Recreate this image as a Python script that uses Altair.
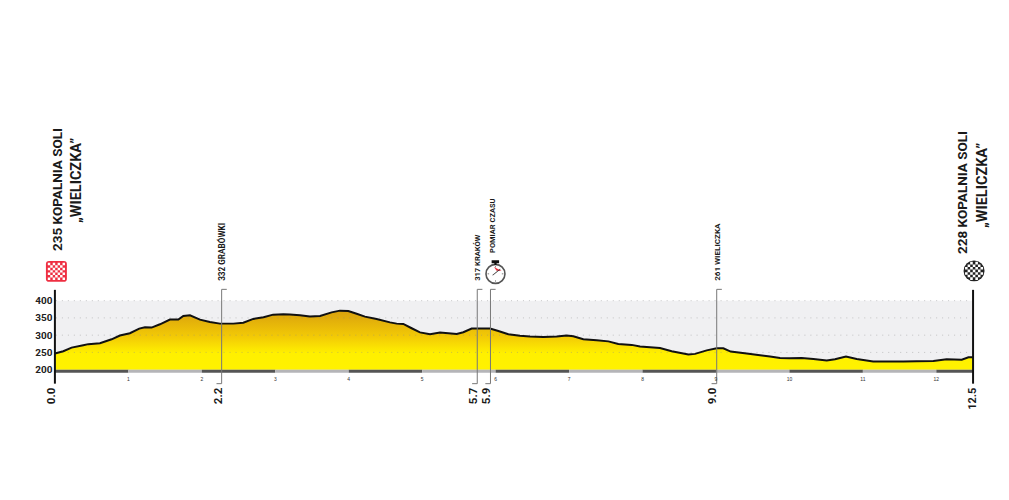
import altair as alt
import pandas as pd

FONT = "Roboto"

# elevation profile (km, m)
km = [0.0,0.114,0.227,0.386,0.454,0.613,0.772,0.885,1.021,1.148,1.226,1.316,1.43,1.566,1.68,1.748,1.839,1.975,2.11,2.247,2.43,2.565,2.70,2.84,2.97,3.11,
      3.2,3.336,3.472,3.61,3.767,3.88,3.994,4.108,4.221,4.38,4.562,4.653,4.743,4.857,4.97,5.107,5.243,5.47,5.56,5.674,5.924,6.037,6.173,6.332,6.468,
      6.65,6.831,6.967,7.058,7.194,7.376,7.535,7.67,7.853,7.966,8.238,8.397,8.624,8.715,8.874,9.01,9.1,9.2,9.418,9.6,9.736,
      9.872,10.0,10.167,10.326,10.508,10.62,10.77,10.916,11.14,11.325,11.552,11.733,11.96,12.14,12.346,12.437,12.5]
elev = [247,253.5,264,271,274,276.6,288,299,305.5,319,323,322,331.5,345,345,355.6,357.5,345,338,333.4,333.4,336,347,352,359.4,360.4,
        360,357.5,353.7,355.6,366,371,370,362,353.7,347,337,333.4,332.5,320,308,302.6,307.4,303.6,308.4,319,319,312,302.6,298,296,
        295,296,298.7,297,288,285,282,274.7,271.8,267,263,253.5,243.8,245.8,256,262,262,252.5,246.7,242,238,
        234,233,234,231,226.5,230,238,231,223.6,223.6,223.6,224.6,225.5,230,229,236,236]

y_ticks = [200, 250, 300, 350, 400]
grid_levels = [250, 300, 350, 400]
seg_start = [0,1,2,3,4,5,6,7,8,9,10,11,12]
seg_end = [1,2,3,4,5,6,7,8,9,10,11,12,12.5]
seg_col = ["#555555","#b5b5b8"]*6 + ["#555555"]
km_marks = [1,2,3,4,5,6,7,8,9,10,11,12]

rule_km = [2.27, 5.75, 5.93, 9.01]
end_km = [0.0, 12.5]

PX_PER_M = 0.346
def at(py):
    return 200 + (369 - py) / PX_PER_M
def kx(px):
    return (px - 55) / 73.44

big_labels = [("235 KOPALNIA SOLI", 58, 250, 13.5), ("\u201eWIELICZKA\u201d", 77, 222, 14.5),
              ("228 KOPALNIA SOLI", 963, 253, 13.5), ("\u201eWIELICZKA\u201d", 983, 227, 14.5),
              ("332 GRABÓWKI", 223.5, 280, 8.2), ("317 KRAKÓW", 478, 280, 7.6),
              ("POMIAR CZASU", 493, 252, 7.5), ("261 WIELICZKA", 718, 280, 8.1)]
low_labels = [("0.0", 52, 11.5), ("2.2", 219, 11.5), ("5.7", 474, 11.5), ("5.9", 487, 11.5),
              ("9.0", 713, 11.5), ("12.5", 973, 11)]

xs = alt.Scale(domain=[0, 12.5], nice=False, zero=False)
ys = alt.Scale(domain=[at(400), at(8)], nice=False, zero=False)
yaxis = alt.Axis(values=y_ticks, title=None, domain=False, ticks=False, grid=False, labelPadding=3,
                 labelFont=FONT, labelFontSize=10, labelFontWeight="bold", labelColor="#222222",
                 labelOverlap=False)
def X(f): return alt.X(f, type="quantitative", scale=xs, axis=None)
def Y(f): return alt.Y(f, type="quantitative", scale=ys, axis=yaxis)

prof = pd.DataFrame({"km": km, "elev": elev, "base": 200})

bg = alt.Chart(pd.DataFrame({"a":[0],"b":[12.5],"c":[200],"d":[400]})).mark_rect(color="#f0f0f2").encode(
    x=X("a"), x2="b", y=Y("c"), y2="d")

area = alt.Chart(prof).mark_area(
    color=alt.Gradient(gradient="linear", x1=1, x2=1, y1=0, y2=1, stops=[
        alt.GradientStop(offset=0, color="#d9a00d"),
        alt.GradientStop(offset=0.45, color="#f3cb06"),
        alt.GradientStop(offset=0.72, color="#fff000"),
        alt.GradientStop(offset=1, color="#fff200")])
).encode(x=X("km"), y=Y("elev"), y2="base")

grid = alt.Chart(pd.DataFrame({"g": grid_levels})).mark_rule(
    color="#8a8a8a", opacity=0.45, strokeWidth=1, strokeDash=[1, 5]
).encode(y=Y("g"))

strip = alt.Chart(pd.DataFrame({"s": seg_start, "e": seg_end, "col": seg_col, "t": 200, "b": at(372)})).mark_rect().encode(
    x=X("s"), x2="e", y=Y("t"), y2="b", color=alt.Color("col:N", scale=None))

line = alt.Chart(prof).mark_line(color="#111111", strokeWidth=2).encode(x=X("km"), y=Y("elev"))

rules = alt.Chart(pd.DataFrame({"k": rule_km, "t": at(288.5), "b": at(383)})).mark_rule(
    color="#777777", strokeWidth=1).encode(x=X("k"), y=Y("t"), y2="b")
top_ticks = alt.Chart(pd.DataFrame({"k": rule_km, "k2": [k + 0.07 for k in rule_km], "t": at(288.5)})).mark_rule(
    color="#777777", strokeWidth=1).encode(x=X("k"), x2="k2", y=Y("t"))
bot_ticks = alt.Chart(pd.DataFrame({"k": rule_km, "k2": [k - 0.07 for k in rule_km], "t": at(383)})).mark_rule(
    color="#777777", strokeWidth=1).encode(x=X("k"), x2="k2", y=Y("t"))
ends = alt.Chart(pd.DataFrame({"k": end_km, "t": at(289), "b": at(383)})).mark_rule(
    color="#111111", strokeWidth=2).encode(x=X("k"), y=Y("t"), y2="b")

km_text = alt.Chart(pd.DataFrame({"k": km_marks, "t": at(378.5), "lab": [str(k) for k in km_marks]})).mark_text(
    font="Liberation Sans", fontSize=5, color="#333333").encode(x=X("k"), y=Y("t"), text="lab:N")

def rotated(rows, align):
    df = pd.DataFrame(rows, columns=["lab", "px", "py", "fs"])
    df["k"] = df["px"].map(kx)
    df["v"] = df["py"].map(at)
    return alt.Chart(df).mark_text(angle=270, align=align, baseline="middle", font=FONT, fontWeight="bold",
                                   color="#1a1a1a").encode(
        x=X("k"), y=Y("v"), text="lab:N", size=alt.Size("fs:Q", scale=None))

txt_up = rotated(big_labels, "left")
txt_low = rotated([(a, b, 387, c) for a, b, c in low_labels], "right")

# icons: paths in the [-1, 1] symbol space
def rect(x0, y0, x1, y1):
    return f"M{x0:.3f},{y0:.3f}L{x1:.3f},{y0:.3f}L{x1:.3f},{y1:.3f}L{x0:.3f},{y1:.3f}Z"

def icon(px, py, path, size, **kw):
    d = pd.DataFrame({"k": [kx(px)], "v": [at(py)]})
    return alt.Chart(d).mark_point(shape=path, size=size, opacity=1, **kw).encode(x=X("k"), y=Y("v"))

def checker(n, reach, round_clip):
    cell = 2 * reach / n
    out = []
    for i in range(n):
        for j in range(n):
            if (i + j) % 2 == 0:
                x0 = -reach + i * cell
                y0 = -reach + j * cell
                cx, cy = x0 + cell / 2, y0 + cell / 2
                if round_clip and cx * cx + cy * cy > reach * reach:
                    continue
                out.append(rect(x0, y0, x0 + cell, y0 + cell))
    return "".join(out)

c = 0.3
rr = (f"M{-1+c},-1L{1-c},-1Q1,-1 1,{-1+c}L1,{1-c}Q1,1 {1-c},1L{-1+c},1Q-1,1 -1,{1-c}L-1,{-1+c}Q-1,-1 {-1+c},-1Z")

red_box = icon(56.5, 270.5, rr, 441, filled=True, color="#ee2f42")
red_chk = icon(56.5, 270.5, checker(7, 0.82, False), 441, filled=True, color="#ffffff")
blk_dot = icon(974, 270, "circle", 441, filled=True, color="#222222")
blk_chk = icon(974, 270, checker(7, 0.86, True), 441, filled=True, color="#ffffff")

watch_ring = icon(495.5, 273, "circle", 361, filled=True, fill="#ffffff", stroke="#555555", strokeWidth=1.6)
watch_btn = icon(495.5, 273, rect(-0.35, -1.25, 0.33, -0.96) + rect(-0.1, -1, 0.1, -0.82), 484, filled=True, color="#111111")
watch_red = icon(495.5, 273, "M-0.13,-0.62L0.56,-0.27L0.1,-0.28Z", 484, filled=True, color="#e8303f")
watch_hand = icon(495.5, 273, "M-0.28,0.1L0.42,-0.46L0.46,-0.42L-0.24,0.14Z", 484, filled=True, color="#222222")
watch_ticks = icon(495.5, 273, rect(-0.03, -0.72, 0.03, -0.58) + rect(-0.03, 0.58, 0.03, 0.72)
                   + rect(-0.72, -0.03, -0.58, 0.03) + rect(0.58, -0.03, 0.72, 0.03), 484, filled=True, color="#555555")

chart = alt.layer(
    bg, area, grid, strip, line, rules, top_ticks, bot_ticks, ends, km_text, txt_up, txt_low,
    red_box, red_chk, blk_dot, blk_chk, watch_ring, watch_ticks, watch_red, watch_hand, watch_btn
).properties(
    width=920, height=392,
    padding={"left": 47, "top": 1, "right": 28, "bottom": 20},
    autosize=alt.AutoSizeParams(type="none"),
    background="white",
).configure_view(stroke=None)

chart.save("out.html", embed_options={"renderer": "svg", "actions": False})
